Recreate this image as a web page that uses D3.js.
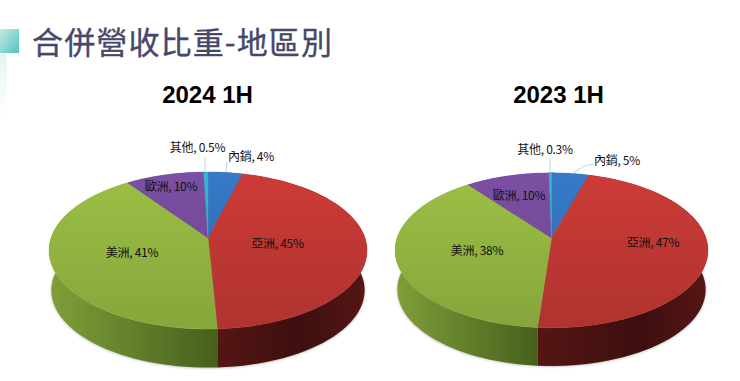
<!DOCTYPE html>
<html>
<head>
<meta charset="utf-8">
<script src="https://cdnjs.cloudflare.com/ajax/libs/d3/7.8.5/d3.min.js"></script>
<style>
	html, body { margin: 0; padding: 0; background: #fff; }
	svg { display: block; }
</style>
</head>
<body>
<div id="chart"></div>
<script>
const categories = ["內銷", "亞洲", "美洲", "歐洲", "其他"];
const colors = ["#3679c6", "#cc3b37", "#9cc045", "#7b4fa3", "#3bb5d0"];
const sideStart = ["#2f5f96", "#551614", "#80a03a", "#5c3f7c", "#2a8aa0"];
const sideMiddle = ["#2f5f96", "#3d0f0f", "#46601c", "#5c3f7c", "#2a8aa0"];
const sideEnd = ["#2f5f96", "#571614", "#46601c", "#5c3f7c", "#2a8aa0"];

const shares2024 = [4.1, 45.1, 41, 9.3, 0.5];
const shares2023 = [4.5, 46.7, 38.4, 10.1, 0.3];
const labels2024 = ["4%", "45%", "41%", "10%", "0.5%"];
const labels2023 = ["5%", "47%", "38%", "10%", "0.3%"];

const width = 740;
const height = 381;

const svg = d3.select("#chart").append("svg")
	.attr("width", width)
	.attr("height", height);

const defs = svg.append("defs");

defs.append("filter").attr("id", "soft")
	.append("feGaussianBlur").attr("stdDeviation", 1.5);

// title block
const bar = defs.append("linearGradient").attr("id", "bar")
	.attr("x1", 0).attr("x2", 1).attr("y1", 0).attr("y2", 1);
bar.append("stop").attr("offset", "0%").attr("stop-color", "#c5ebe0");
bar.append("stop").attr("offset", "100%").attr("stop-color", "#52c3c3");

const strip = defs.append("linearGradient").attr("id", "strip")
	.attr("x1", 0).attr("x2", 0).attr("y1", 0).attr("y2", 1);
strip.append("stop").attr("offset", "0%").attr("stop-color", "#e4f6f3");
strip.append("stop").attr("offset", "100%").attr("stop-color", "#ffffff");

svg.append("rect").attr("x", 0).attr("y", 53).attr("width", 7).attr("height", 65).attr("fill", "url(#strip)");
svg.append("rect").attr("x", 0).attr("y", 29).attr("width", 19).attr("height", 24).attr("fill", "url(#bar)");

svg.append("text")
	.attr("x", 32).attr("y", 54)
	.attr("font-family", "'Noto Sans CJK TC'")
	.attr("font-size", 31)
	.attr("textLength", 300)
	.attr("fill", "#46476a")
	.attr("stroke", "#46476a")
	.attr("stroke-width", 0.35)
	.text("合併營收比重-地區別");

/**
 * One tilted pie. Angles come from d3.pie, the rim goes through a small
 * perspective projection so the apex sits above the middle of the ellipse.
 */
function drawPie(opts) {
	const g = svg.append("g");
	const k = 0.159;
	const slices = d3.pie().sort(null).value(function(d) { return d; })(opts.shares);

	function rim(a, scale, shift) {
		const u = Math.sin(a);
		const v = -Math.cos(a);
		const s = scale / (1 - k * v);
		return [opts.cx + opts.rx * u * s, opts.cy + opts.ry * v * s + shift];
	}

	function arcPoints(a0, a1, scale, shift) {
		return d3.range(0, 61).map(function(i) {
			return rim(a0 + (a1 - a0) * i / 60, scale, shift);
		});
	}

	const line = d3.line();

	// thin grey fringe round the foot of the pie
	g.append("path")
		.attr("d", line(arcPoints(0, 2 * Math.PI, opts.footScale, opts.depth + 0.5)) + "Z")
		.attr("fill", "#000")
		.attr("opacity", 0.3)
		.attr("filter", "url(#soft)");

	// side colours change where the red and green slices meet at the front
	const frontX = rim(slices[1].endAngle, 1, 0)[0];
	const left = opts.cx - opts.rx - 4;
	const right = opts.cx + opts.rx + 4;
	const frontStop = (frontX - left) / (right - left);

	slices.forEach(function(d, i) {
		const id = "side" + opts.year + i;
		const grad = defs.append("linearGradient").attr("id", id)
			.attr("gradientUnits", "userSpaceOnUse")
			.attr("x1", left).attr("x2", right)
			.attr("y1", 0).attr("y2", 0);
		if (i === 1) {
			grad.append("stop").attr("offset", frontStop).attr("stop-color", sideStart[i]);
			grad.append("stop").attr("offset", 0.78).attr("stop-color", sideMiddle[i]);
			grad.append("stop").attr("offset", 1).attr("stop-color", sideEnd[i]);
		} else {
			grad.append("stop").attr("offset", 0).attr("stop-color", sideStart[i]);
			grad.append("stop").attr("offset", frontStop).attr("stop-color", sideMiddle[i]);
			grad.append("stop").attr("offset", 1).attr("stop-color", sideEnd[i]);
		}

		const top = arcPoints(d.startAngle, d.endAngle, 1, 0);
		const foot = arcPoints(d.startAngle, d.endAngle, opts.footScale, opts.depth).reverse();
		g.append("path")
			.attr("d", line(top.concat(foot)) + "Z")
			.attr("fill", "url(#" + id + ")");
	});

	slices.forEach(function(d, i) {
		const face = [[opts.cx, opts.cy]].concat(arcPoints(d.startAngle, d.endAngle, 1, 0));
		g.append("path")
			.attr("d", line(face) + "Z")
			.attr("fill", colors[i])
			.attr("stroke", colors[i])
			.attr("stroke-width", 0.4);
	});

	// shading on the top face
	const shadeId = "shade" + opts.year;
	const shade = defs.append("linearGradient").attr("id", shadeId)
		.attr("x1", 0).attr("x2", 0).attr("y1", 0).attr("y2", 1);
	shade.append("stop").attr("offset", "0%").attr("stop-color", "#000").attr("stop-opacity", 0);
	shade.append("stop").attr("offset", "100%").attr("stop-color", "#000").attr("stop-opacity", 0.14);
	g.append("path")
		.attr("d", line(arcPoints(0, 2 * Math.PI, 1, 0)) + "Z")
		.attr("fill", "url(#" + shadeId + ")");

	svg.append("text")
		.attr("x", opts.titleX).attr("y", 103)
		.attr("text-anchor", "middle")
		.attr("font-family", "'Liberation Sans'")
		.attr("font-weight", "bold")
		.attr("font-size", 24)
		.attr("fill", "#000")
		.text(opts.year + " 1H");

	svg.append("g").selectAll("path")
		.data(opts.leaders)
		.join("path")
		.attr("d", function(d) { return line(d); })
		.attr("fill", "none")
		.attr("stroke", "#b4c3da")
		.attr("stroke-width", 0.8);

	svg.append("g").selectAll("text")
		.data(categories)
		.join("text")
		.attr("x", function(d, i) { return opts.labelPos[i][0]; })
		.attr("y", function(d, i) { return opts.labelPos[i][1]; })
		.attr("text-anchor", "middle")
		.attr("font-family", "'Noto Sans CJK TC'")
		.attr("font-size", 12)
		.attr("letter-spacing", -0.3)
		.attr("fill", "#111")
		.text(function(d, i) { return d + ", " + opts.labels[i]; });
}

drawPie({
	year: 2024, shares: shares2024, labels: labels2024, titleX: 207.5,
	cx: 208, cy: 238, rx: 157, ry: 76.5, depth: 40, footScale: 0.985,
	labelPos: [[251, 161], [277.5, 248], [132, 257], [171, 191], [197.5, 152]],
	leaders: [[[227, 162], [226, 172]], [[205, 157], [205, 172]]]
});

drawPie({
	year: 2023, shares: shares2023, labels: labels2023, titleX: 558.5,
	cx: 551.5, cy: 238, rx: 154.5, ry: 75.5, depth: 39.5, footScale: 0.985,
	labelPos: [[617, 165], [653, 247], [477, 255], [519, 200], [545, 154]],
	leaders: [[[593, 164], [584, 166], [572, 174]], [[550, 158], [550, 173]]]
});
</script>
</body>
</html>
